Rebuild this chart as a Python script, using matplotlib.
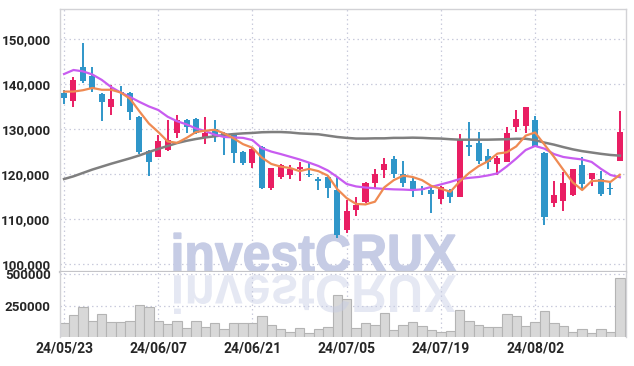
import matplotlib
matplotlib.use("Agg")
import matplotlib.pyplot as plt
from matplotlib.patches import PathPatch
from matplotlib.textpath import TextPath
from matplotlib.font_manager import FontProperties
from matplotlib.transforms import Affine2D, IdentityTransform

dates = ["24/05/23", "24/05/24", "24/05/27", "24/05/28", "24/05/29", "24/05/30", "24/05/31",
         "24/06/03", "24/06/04", "24/06/05", "24/06/07", "24/06/10", "24/06/11", "24/06/12",
         "24/06/13", "24/06/14", "24/06/17", "24/06/18", "24/06/19", "24/06/20", "24/06/21",
         "24/06/24", "24/06/25", "24/06/26", "24/06/27", "24/06/28", "24/07/01", "24/07/02",
         "24/07/03", "24/07/04", "24/07/05", "24/07/08", "24/07/09", "24/07/10", "24/07/11",
         "24/07/12", "24/07/15", "24/07/16", "24/07/17", "24/07/18", "24/07/19", "24/07/22",
         "24/07/23", "24/07/24", "24/07/25", "24/07/26", "24/07/29", "24/07/30", "24/07/31",
         "24/08/01", "24/08/02", "24/08/05", "24/08/06", "24/08/07", "24/08/08", "24/08/09",
         "24/08/12", "24/08/13", "24/08/14", "24/08/16"]

opens = [138100, 136400, 143900, 141800, 137800, 135000, 138400, 138000, 132800, 125200,
         123900, 125400, 129200, 132100, 132400, 128400, 130100, 129100, 128900, 125000,
         122600, 126100, 117000, 119300, 119800, 121200, 120100, 119000, 119500, 116500,
         107600, 112100, 113900, 118100, 121000, 123400, 120100, 118400, 116700, 116500,
         114600, 116500, 115000, 126500, 127000, 124100, 122400, 122800, 130600, 130800,
         132100, 124700, 113700, 114100, 115400, 122100, 119000, 118900, 116900, 123000]
highs = [138700, 141600, 149200, 143800, 138100, 139800, 139600, 138400, 133000, 125500,
         128700, 132100, 133200, 132200, 132600, 132700, 132100, 129400, 129000, 125200,
         126100, 126200, 121400, 122300, 122100, 122700, 122600, 119500, 119600, 119300,
         114200, 115000, 118300, 121100, 123600, 124100, 123000, 119100, 117400, 117400,
         117400, 116700, 128900, 131700, 129300, 125600, 124100, 130600, 134200, 135000,
         133000, 125000, 118600, 120600, 121200, 123900, 120300, 120700, 118300, 134100]
lows = [135600, 134900, 140300, 138400, 131900, 133200, 135200, 132000, 124500, 119600,
        123800, 125200, 128000, 129200, 128900, 126700, 127200, 124400, 122600, 122100,
        121300, 116700, 116500, 119000, 118900, 118400, 119300, 116500, 114700, 105900,
        106900, 110700, 113700, 117000, 119100, 119100, 117100, 115000, 115400, 111500,
        113400, 113700, 115000, 124000, 122400, 121100, 119800, 122700, 129300, 129100,
        126000, 108700, 112800, 111900, 115200, 116700, 117300, 115100, 115300, 123000]
closes = [137000, 141000, 140700, 139300, 136100, 136800, 138000, 133900, 125000, 122800,
          127400, 127600, 132100, 130600, 129100, 129200, 128400, 128300, 124800, 122600,
          125600, 117000, 121300, 122100, 121200, 121700, 119800, 118600, 117000, 106500,
          111800, 113200, 118000, 120100, 122300, 120100, 118100, 116500, 116400, 115700,
          117100, 115000, 127600, 126100, 123000, 122800, 123700, 129100, 132300, 134900,
          126300, 110400, 115400, 118000, 121100, 117800, 120200, 115700, 116700, 129300]

ma5 = [138400, 138400, 138700, 139200, 138800, 138800, 138200, 136800, 134000, 131300,
       129400, 127300, 127000, 128100, 129400, 129700, 129900, 129100, 128000, 126700,
       125900, 123700, 122300, 121700, 121400, 120700, 121200, 120700, 119700, 116700,
       114700, 113400, 113300, 113900, 117100, 118700, 119700, 119400, 118700, 117400,
       116800, 116100, 118400, 120300, 121800, 122900, 124600, 124900, 126200, 128600,
       129300, 126600, 123900, 121000, 118200, 116500, 118500, 118600, 118300, 119900]
ma20 = [142300, 143200, 142900, 142200, 141000, 139400, 138200, 137200, 136100, 135100,
        134300, 132800, 131800, 131100, 130200, 129600, 128800, 128300, 128200, 128100,
        127600, 125800, 125050, 124500, 123900, 123300, 122600, 121850, 120850, 119400,
        117850, 117300, 117050, 116900, 116750, 116650, 116600, 116500, 116650, 117200,
        117750, 118300, 118950, 119200, 119400, 119750, 120200, 121750, 123500, 125400,
        126300, 125700, 124500, 123850, 123550, 123300, 122750, 121200, 119850, 119350]
ma60 = [118950, 119550, 120300, 121050, 121700, 122350, 122950, 123550, 124200, 124950,
        125650, 126300, 126950, 127450, 127850, 128200, 128450, 128750, 128950, 129100,
        129200, 129350, 129400, 129400, 129300, 129100, 129000, 128900, 128600, 128300,
        128100, 127950, 127950, 128000, 128000, 128100, 128100, 128150, 128100, 128000,
        127950, 127800, 127700, 127700, 127700, 127700, 127750, 127800, 127900, 127900,
        127600, 127050, 126600, 126050, 125550, 125150, 124850, 124550, 124300, 124150]

volumes = [119600, 183300, 244600, 135000, 188700, 127300, 127300, 135000, 257700, 246900,
           135000, 114300, 135000, 83600, 135000, 89000, 119600, 73600, 119600, 119600,
           119600, 175600, 104300, 78200, 55200, 81300, 42900, 73600, 93600, 335100,
           303700, 81300, 119600, 105100, 196300, 64400, 105100, 127300, 98900, 66000,
           54400, 59100, 219300, 135700, 105100, 89000, 89000, 189400, 175600, 97400,
           127300, 211700, 119600, 97400, 51400, 73600, 42900, 73600, 51400, 464700]

price_ticks = [100000, 110000, 120000, 130000, 140000, 150000]
volume_ticks = [250000, 500000]
date_tick_step = 10

UP = "#e91e63"
DOWN = "#2f96c9"
GRID = "#c9cbdc"
SPINE = "#d2d2d6"

fig = plt.figure(figsize=(6.34, 3.66), dpi=100)
ax = fig.add_axes([0.0951, 0.2560, 0.8915, 0.7186])
axv = fig.add_axes([0.0951, 0.0784, 0.8915, 0.1776], sharex=ax)

n = len(closes)
xs = list(range(n))
cols = [UP if c >= o else DOWN for o, c in zip(opens, closes)]

ax.vlines(xs, lows, highs, colors=cols, linewidth=1.4, zorder=3)
bottoms = [min(o, c) for o, c in zip(opens, closes)]
heights = [max(abs(c - o), 250) for o, c in zip(opens, closes)]
ax.bar(xs, heights, bottom=bottoms, width=0.64, color=cols, linewidth=0, zorder=4)

ax.plot(xs, ma60, color="#7f7f7f", linewidth=1.8, zorder=5)
ax.plot(xs, ma20, color="#c85cf0", linewidth=1.6, zorder=5)
ax.plot(xs, ma5, color="#ef8a52", linewidth=1.6, zorder=6)

axv.bar(xs, volumes, width=1.0, color="#d8d8d8", edgecolor="#b4b4b4", linewidth=0.8, zorder=2)

ax.set_xlim(-0.4, 59.6)
ax.set_ylim(98200, 156700)
axv.set_ylim(12000, 511000)

tick_idx = list(range(0, n, date_tick_step))
axv.set_xticks(tick_idx)
axv.set_xticklabels([dates[i] for i in tick_idx])
ax.tick_params(axis="x", labelbottom=False, length=0)

ax.set_yticks(price_ticks)
ax.set_yticklabels([f"{v:,}" for v in price_ticks])
axv.set_yticks(volume_ticks)
axv.set_yticklabels([str(v) for v in volume_ticks])

lab_font = ["Roboto", "DejaVu Sans"]
for lab in ax.get_yticklabels() + axv.get_yticklabels():
    lab.set_family(lab_font)
    lab.set_fontsize(9.6)
    lab.set_fontweight("bold")
    lab.set_color("#262626")
for lab in axv.get_xticklabels():
    lab.set_family(lab_font)
    lab.set_fontsize(10)
    lab.set_fontweight("bold")
    lab.set_color("#262626")

ax.tick_params(axis="y", length=0, pad=7)
axv.tick_params(axis="y", length=0, pad=7)
axv.tick_params(axis="x", length=0, pad=3)

for a in (ax, axv):
    a.grid(True, color=GRID, linestyle=(0, (1.2, 2.4)), linewidth=0.9, zorder=0)
    a.set_axisbelow(True)
    for s in ("left", "top", "right"):
        a.spines[s].set_color(SPINE)
        a.spines[s].set_linewidth(1.0)
ax.spines["bottom"].set_color("#c4c4c8")
ax.spines["bottom"].set_linewidth(1.6)
axv.spines["top"].set_visible(False)
axv.spines["bottom"].set_visible(False)

# watermark with reflection (display pixel coordinates)
H = 366
fp = FontProperties(family="Liberation Sans", weight="bold")
tp = TextPath((0, 0), "investCRUX", size=50, prop=fp)
ext = tp.get_extents()
x0, x1 = 174, 456
top_px, base_px = 233.5, 271.7
cap = 0.716 * 50
sx = (x1 - x0) / ext.width
sy = (base_px - top_px) / cap
tr = Affine2D().translate(-ext.x0, 0).scale(sx, sy).translate(x0, H - base_px)
wm = PathPatch(tr.transform_path(tp), facecolor="#c6cce5", edgecolor="#c6cce5", linewidth=1.0,
               transform=IdentityTransform(), zorder=1)
ax.add_patch(wm)
wm.set_clip_path(ax.patch)
mirror = 273.5
tr2 = Affine2D().translate(-ext.x0, 0).scale(sx, -sy).translate(x0, H - (2 * mirror - base_px))
wm2 = PathPatch(tr2.transform_path(tp), facecolor="#c6cce5", edgecolor="none", alpha=0.45,
                transform=IdentityTransform(), zorder=3)
axv.add_patch(wm2)
wm2.set_clip_path(axv.patch)

fig.savefig("out.png", dpi=100)
